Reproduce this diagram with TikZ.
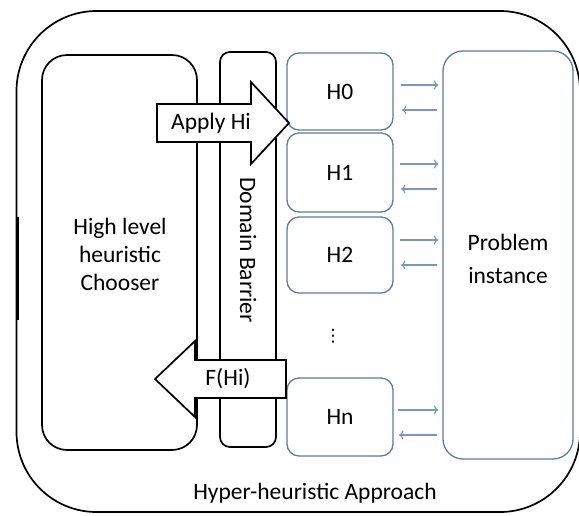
\documentclass[tikz,border=0pt]{standalone}
\usepackage{fontspec}
\setmainfont{Carlito}
\newfontfamily\symbolfont{DejaVu Sans}
\usetikzlibrary{arrows.meta}
\definecolor{boxblue}{RGB}{92,124,162}
\definecolor{arrowblue}{RGB}{122,150,188}
\begin{document}
\begin{tikzpicture}[x=1pt,y=-1pt,
  frame/.style={draw=black, line width=1.7pt},
  hbox/.style={draw=boxblue, line width=1.3pt, rounded corners=12pt, inner sep=0pt,
    minimum width=106pt, font=\fontsize{23.5}{28}\selectfont},
  sarrow/.style={draw=arrowblue, line width=1.1pt, -{To[length=4.5pt,width=9pt]}},
  bigarrow/.style={draw=black, line width=1.7pt, fill=white, line join=miter},
  lbl/.style={font=\fontsize{23.5}{28}\selectfont, align=center, text=black, inner sep=0pt}]
  \useasboundingbox (0,0) rectangle (579,515);

  % outer frame of the approach
  \draw[frame, rounded corners=80pt] (16.5,11) rectangle (580,512);
  \draw[line width=3pt] (17.8,217) -- (17.8,320);

  % high level chooser and the domain barrier
  \node[frame, rounded corners=25pt, minimum width=155pt, minimum height=395pt, inner sep=0pt]
    (chooser) at (119.5,252.5) {};
  \node[frame, rounded corners=10pt, minimum width=56pt, minimum height=395pt, inner sep=0pt]
    (barrier) at (248,249.5) {};

  % low level heuristics
  \node[hbox, minimum height=77pt] (h0) at (340,91.5) {H0};
  \node[hbox, minimum height=79pt] (h1) at (340,172.5) {H1};
  \node[hbox, minimum height=76pt] (h2) at (340,255) {H2};
  \node[hbox, minimum height=78pt] (hn) at (340,417) {Hn};
  \node[font=\symbolfont\fontsize{17}{17}\selectfont, inner sep=0pt] (dots) at (333,336) {⋮};

  % problem instance
  \node[draw=boxblue, line width=1.3pt, rounded corners=20pt, minimum width=130pt,
    minimum height=408pt, inner sep=0pt] (prob) at (508,255) {};
  \node[lbl, font=\fontsize{23.5}{33}\selectfont] (probtxt) at (508,259) {Problem\\instance};

  % exchanges between heuristics and the problem
  \coordinate (r0) at (401,85);  \coordinate (l0) at (402,110);
  \coordinate (r1) at (400,164); \coordinate (l1) at (401,189);
  \coordinate (r2) at (400,240); \coordinate (l2) at (401,265);
  \coordinate (rn) at (398,410); \coordinate (ln) at (399,435);
  \foreach \r in {r0,r1,r2,rn}
    \draw[sarrow, shorten >=4pt] (\r) -- (\r -| prob.west);
  \foreach \l in {l0,l1,l2,ln}
    \draw[sarrow, shorten <=5pt] (\l -| prob.west) -- (\l);

  % block arrows across the barrier
  \draw[bigarrow] (157,104) -- (251,104) -- (251,82) -- (289,123) -- (251,164)
    -- (251,142) -- (157,142) -- cycle;
  \node[lbl] (apply) at (211,123) {Apply Hi};
  \draw[bigarrow] (286,360) -- (195,360) -- (195,341) -- (155,379) -- (195,417)
    -- (195,398) -- (286,398) -- cycle;
  \node[lbl] (fhi) at (228,379) {F(Hi)};

  % labels
  \node[lbl] (choosertxt) at (120,254) {High level\\heuristic\\Chooser};
  \node[lbl, rotate=-90] (barriertxt) at (248,250) {Domain Barrier};
  \node[lbl] (title) at (315,493) {Hyper-heuristic Approach};
\end{tikzpicture}
\end{document}
